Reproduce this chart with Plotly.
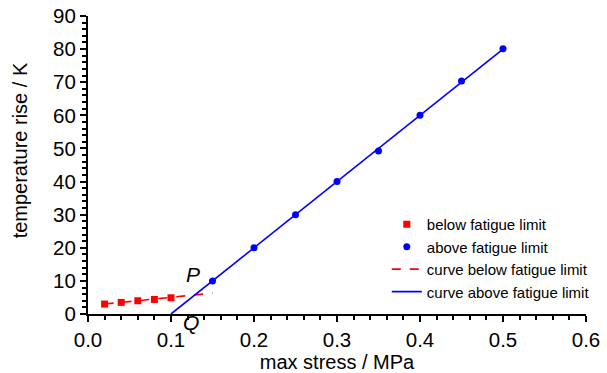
import plotly.graph_objects as go

below_x = [0.02, 0.04, 0.06, 0.08, 0.10]
below_y = [3.0, 3.5, 4.0, 4.4, 4.9]
above_x = [0.15, 0.20, 0.25, 0.30, 0.35, 0.40, 0.45, 0.50]
above_y = [10.0, 20.0, 30.0, 40.0, 49.2, 60.0, 70.4, 80.1]
fit_below_x = [0.02, 0.15]
fit_below_y = [3.0, 6.3]
fit_above_x = [0.10, 0.50]
fit_above_y = [0.0, 80.0]

font = "Liberation Sans, Arial, sans-serif"
fig = go.Figure()
fig.add_trace(go.Scatter(x=below_x, y=below_y, mode="markers", name="below fatigue limit",
                         marker=dict(symbol="square", size=7, color="#ff0000"), cliponaxis=False))
fig.add_trace(go.Scatter(x=above_x, y=above_y, mode="markers", name="above fatigue limit",
                         marker=dict(symbol="circle", size=7, color="#0000ff"), cliponaxis=False))
fig.add_trace(go.Scatter(x=fit_below_x, y=fit_below_y, mode="lines", name="curve below fatigue limit",
                         line=dict(color="#ff0000", width=1.6, dash="dash")))
fig.add_trace(go.Scatter(x=fit_above_x, y=fit_above_y, mode="lines", name="curve above fatigue limit",
                         line=dict(color="#0000ff", width=1.6)))

fig.add_annotation(x=0.126, y=12.0, text="<i>P</i>", showarrow=False,
                   xanchor="center", yanchor="middle",
                   font=dict(family=font, size=21, color="black"))
fig.add_annotation(x=0.124, xref="x", y=-0.03, yref="paper", text="<i>Q</i>", showarrow=False,
                   xanchor="center", yanchor="middle",
                   font=dict(family=font, size=21, color="black"))
fig.add_annotation(x=-0.136, xref="paper", y=0.55, yref="paper", text="temperature rise / K",
                   textangle=-90, showarrow=False, xanchor="center", yanchor="middle",
                   font=dict(family=font, size=20, color="black"))

axis_common = dict(showline=True, linecolor="black", linewidth=2, ticks="outside",
                   ticklen=6, tickwidth=2, tickcolor="black", showgrid=False, zeroline=False,
                   mirror=False, automargin=False, ticklabeloverflow="allow",
                   tickfont=dict(family=font, size=20.5, color="black"),
                   minor=dict(ticks="outside", ticklen=4, tickwidth=2, tickcolor="black"))
fig.update_xaxes(range=[0, 0.6], dtick=0.1, tickformat=".1f",
                 title=dict(text="max stress / MPa", font=dict(family=font, size=20, color="black"), standoff=4),
                 **axis_common)
fig.update_yaxes(range=[0, 90], dtick=10, **axis_common)
fig.update_layout(
    width=607, height=373, plot_bgcolor="white", paper_bgcolor="white",
    margin=dict(l=88, r=19, t=16, b=59),
    legend=dict(x=0.6, y=0.356, xanchor="left", yanchor="top", bgcolor="rgba(0,0,0,0)",
                font=dict(family=font, size=15, color="black"), tracegroupgap=0, itemwidth=30),
    showlegend=True,
)
fig.write_html("out.html", config={"displayModeBar": False},
               post_script="document.body.style.margin='0';document.body.style.overflow='hidden';")
